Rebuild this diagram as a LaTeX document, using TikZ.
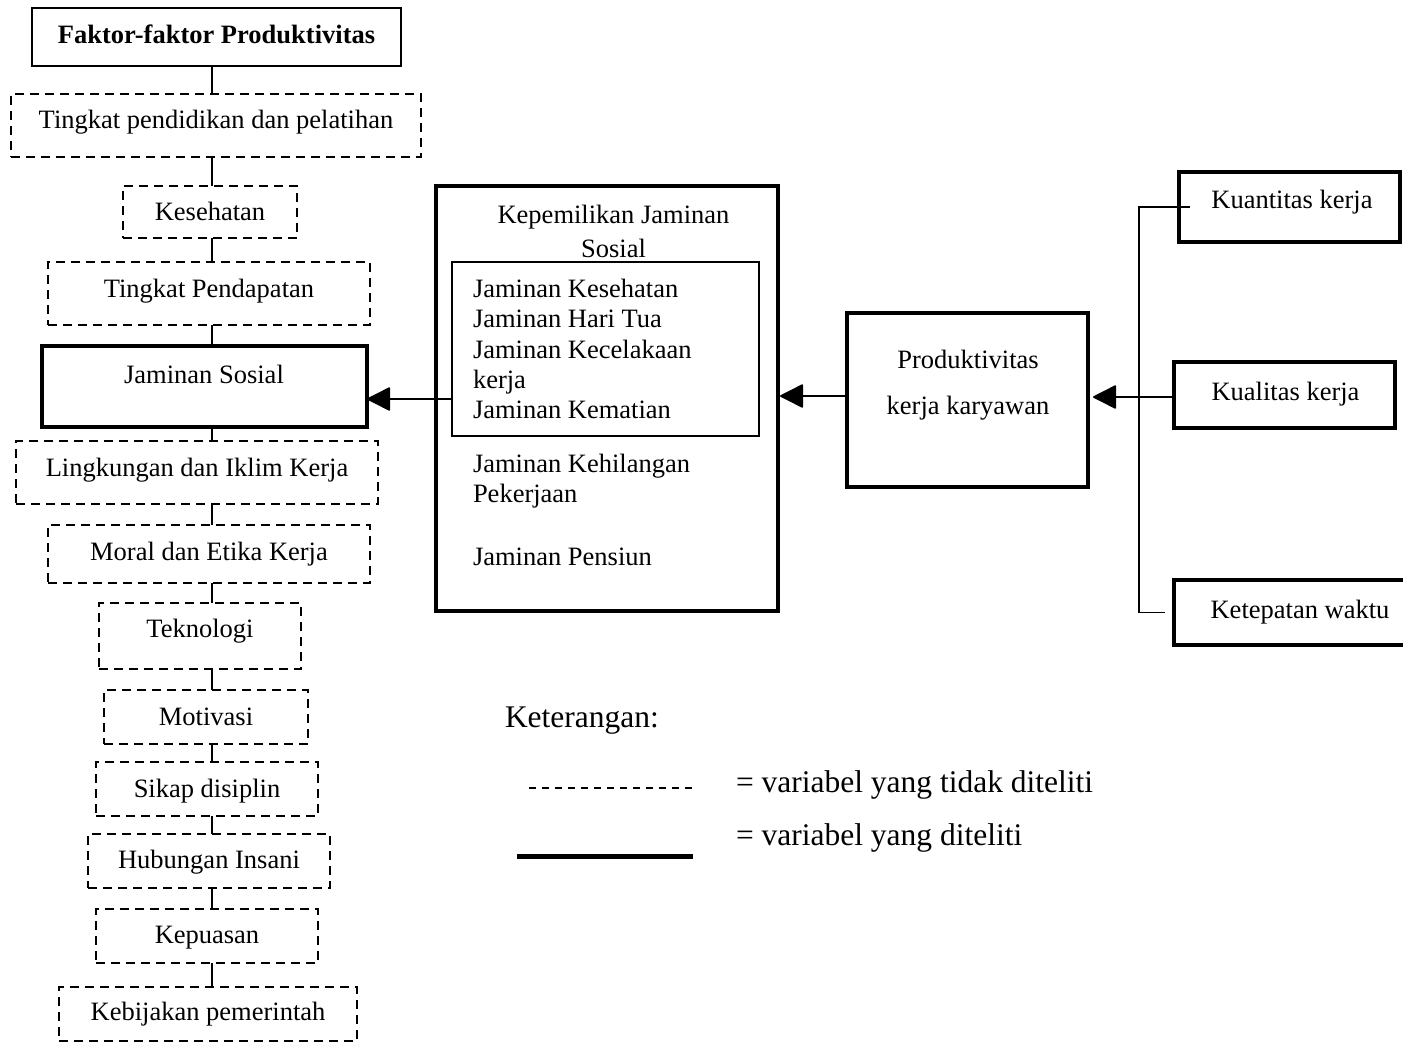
\documentclass[tikz,border=0pt]{standalone}
\usepackage{fontspec}
\setmainfont{Liberation Serif}
\usetikzlibrary{arrows.meta}
\tikzset{
  box/.style={draw, inner sep=0pt, outer sep=0pt},
  thinbox/.style={box, line width=1.8pt},
  dbox/.style={box, line width=1.6pt, dash pattern=on 9pt off 6pt},
  thickbox/.style={box, line width=4.5pt},
  innerbox/.style={box, line width=1.5pt},
  txt/.style={inner sep=0pt, outer sep=0pt, font=\fontsize{26.5}{30}\selectfont},
  bigtxt/.style={inner sep=0pt, outer sep=0pt, font=\fontsize{31.5}{36}\selectfont},
  link/.style={line width=1.6pt},
  arr/.style={line width=1.6pt, -{Triangle[length=24pt,width=24pt,round]}},
}
\begin{document}
\begin{tikzpicture}[x=1pt,y=-1pt]
\useasboundingbox (0,0) rectangle (1403,1042);
% ---------- left column ----------
\node[thinbox, minimum width=369pt, minimum height=58pt] (fp) at (216.5,37) {};
\node[dbox, minimum width=410pt, minimum height=63pt] (tp) at (216,125.5) {};
\node[dbox, minimum width=174pt, minimum height=52pt] (ks) at (210,212) {};
\node[dbox, minimum width=322pt, minimum height=63pt] (pd) at (209,293.5) {};
\node[thickbox, minimum width=325pt, minimum height=81pt] (js) at (204.5,386.5) {};
\node[dbox, minimum width=362pt, minimum height=63pt] (lk) at (197,472.5) {};
\node[dbox, minimum width=322pt, minimum height=58pt] (mr) at (209,554) {};
\node[dbox, minimum width=202pt, minimum height=66pt] (tk) at (200,636) {};
\node[dbox, minimum width=204pt, minimum height=54pt] (mt) at (206,717) {};
\node[dbox, minimum width=222pt, minimum height=54pt] (sd) at (207,789) {};
\node[dbox, minimum width=242pt, minimum height=54pt] (hi) at (209,861) {};
\node[dbox, minimum width=222pt, minimum height=54pt] (kp) at (207,936) {};
\node[dbox, minimum width=298pt, minimum height=54pt] (kb) at (208,1014) {};

\node[txt, anchor=base, font=\fontsize{26.5}{30}\selectfont\bfseries] (fp-t) at (216.5,43) {Faktor-faktor Produktivitas};
\node[txt, anchor=base] (tp-t) at (216,128) {Tingkat pendidikan dan pelatihan};
\node[txt, anchor=base] (ks-t) at (210,220) {Kesehatan};
\node[txt, anchor=base] (pd-t) at (209,297) {Tingkat Pendapatan};
\node[txt, anchor=base] (js-t) at (204,383) {Jaminan Sosial};
\node[txt, anchor=base] (lk-t) at (197,476) {Lingkungan dan Iklim Kerja};
\node[txt, anchor=base] (mr-t) at (209,560) {Moral dan Etika Kerja};
\node[txt, anchor=base] (tk-t) at (200,637) {Teknologi};
\node[txt, anchor=base] (mt-t) at (206,725) {Motivasi};
\node[txt, anchor=base] (sd-t) at (207,797) {Sikap disiplin};
\node[txt, anchor=base] (hi-t) at (209,868) {Hubungan Insani};
\node[txt, anchor=base] (kp-t) at (207,943) {Kepuasan};
\node[txt, anchor=base] (kb-t) at (208,1020) {Kebijakan pemerintah};

\coordinate (sp) at (212,0);
\foreach \a/\b in {fp/tp, tp/ks, ks/pd, pd/js, js/lk, lk/mr, mr/tk, tk/mt, mt/sd, sd/hi, hi/kp, kp/kb}
  \draw[link] (\a.south -| sp) -- (\b.north -| sp);

% ---------- Kepemilikan Jaminan Sosial ----------
\node[thickbox, minimum width=342pt, minimum height=425pt] (kj) at (607,398.5) {};
\node[innerbox, minimum width=307pt, minimum height=174pt] (ib) at (605.5,349) {};
\node[txt, anchor=base] (kj-t1) at (613.5,223) {Kepemilikan Jaminan};
\node[txt, anchor=base] (kj-t2) at (613.5,257) {Sosial};
\node[txt, anchor=base west] (l1) at (473,297) {Jaminan Kesehatan};
\node[txt, anchor=base west] (l2) at (473,327) {Jaminan Hari Tua};
\node[txt, anchor=base west] (l3) at (473,358) {Jaminan Kecelakaan};
\node[txt, anchor=base west] (l4) at (473,388) {kerja};
\node[txt, anchor=base west] (l5) at (473,418) {Jaminan Kematian};
\node[txt, anchor=base west] (l6) at (473,472) {Jaminan Kehilangan};
\node[txt, anchor=base west] (l7) at (473,502) {Pekerjaan};
\node[txt, anchor=base west] (l8) at (473,565) {Jaminan Pensiun};

% ---------- Produktivitas ----------
\node[thickbox, minimum width=241pt, minimum height=174pt] (pk) at (967.5,400) {};
\node[txt, anchor=base] (pk-t1) at (968,368) {Produktivitas};
\node[txt, anchor=base] (pk-t2) at (968,414) {kerja karyawan};

% ---------- right indicators ----------
\node[thickbox, minimum width=221pt, minimum height=70pt] (ku) at (1289.5,207) {};
\node[thickbox, minimum width=221pt, minimum height=66pt] (kw) at (1284.5,395) {};
\node[thickbox, minimum width=236pt, minimum height=65pt] (kt) at (1292,612.5) {};
\node[txt, anchor=base] (ku-t) at (1292,208) {Kuantitas kerja};
\node[txt, anchor=base] (kw-t) at (1285.5,400) {Kualitas kerja};
\node[txt, anchor=base] (kt-t) at (1300,618) {Ketepatan waktu};

\coordinate (rs) at (1139,0);
\draw[line width=1.4pt] ([xshift=11pt]ku.west) -- (ku.west -| rs) -- (rs |- kt.west) -- ([xshift=-9pt]kt.west);

% ---------- arrows ----------
\coordinate (ya) at (0,399);
\coordinate (yb) at (0,396);
\coordinate (yc) at (0,397);
\draw[arr] (ib.west |- ya) -- (js.east |- ya);
\draw[arr, shorten >=2pt] (pk.west |- yb) -- (kj.east |- yb);
\draw[arr, shorten >=5pt] (kw.west |- yc) -- (pk.east |- yc);

% ---------- legend ----------
\node[bigtxt, anchor=base west] (ket) at (505,727) {Keterangan:};
\coordinate (d1) at (529,788);
\coordinate (d2) at (698,788);
\draw[line width=1.2pt, dash pattern=on 7pt off 6pt] (d1) -- (d2);
\node[bigtxt, anchor=base west] (lg1) at (736,792) {= variabel yang tidak diteliti};
\coordinate (t1) at (517,856);
\coordinate (t2) at (693,856);
\draw[line width=5pt] (t1) -- (t2);
\node[bigtxt, anchor=base west] (lg2) at (736,845) {= variabel yang diteliti};
\end{tikzpicture}
\end{document}
